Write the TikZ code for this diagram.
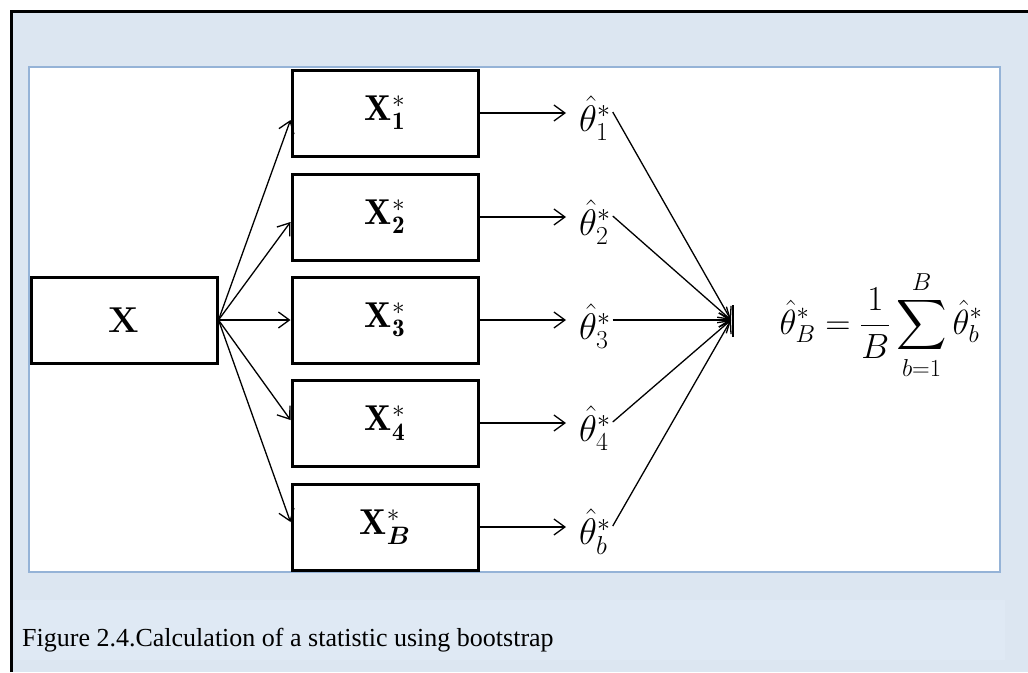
\RequirePackage{fix-cm}
\documentclass[tikz,border=0pt]{standalone}
\usepackage{amsmath,bm}
\DeclareFontShape{OMX}{cmex}{m}{n}{<-7.5> cmex7 <7.5-8.5> cmex8 <8.5-9.5> cmex9 <9.5-> cmex10}{}
\usepackage{fontspec}
\usetikzlibrary{arrows.meta,calc}
\newfontfamily\capfont{Liberation Serif}
\definecolor{bgblue}{RGB}{220,230,241}
\definecolor{panelline}{RGB}{149,179,215}
\definecolor{capbox}{RGB}{223,233,244}
\begin{document}
\begin{tikzpicture}[x=1pt,y=-1pt,
  sbox/.style={draw=black,line width=3pt,minimum width=186pt,minimum height=86pt,inner sep=0pt},
  arr/.style={line width=1.3pt,-{Straight Barb[length=11pt,width=16pt,line width=1.3pt]}},
  conv/.style={line width=1.3pt,-{Straight Barb[length=11pt,width=14pt,line width=1.3pt]}},
  thlabel/.style={anchor=west,inner xsep=13pt,inner ysep=2pt,font=\fontsize{37}{37}\selectfont},
  boxlabel/.style={font=\fontsize{36}{36}\selectfont}]
\useasboundingbox (0,0) rectangle (1028,672);
\fill[white] (0,0) rectangle (1028,672);
\fill[bgblue] (11.5,11.5) rectangle (1028,672);
\fill[capbox] (15,600) rectangle (1005,660);
\draw[line width=3pt] (11.5,672) -- (11.5,11.5) -- (1028,11.5);
\draw[panelline,fill=white,line width=2.5pt] (29,67) rectangle (1000,572);
% main box
\node[sbox] (x) at (124,320) {\fontsize{36}{36}\selectfont\bfseries X};
% sample boxes
\node[sbox,boxlabel] (b1) at (385,113) {$\mathbf{X}^{*}_{\mathbf{1}}$};
\node[sbox,boxlabel] (b2) at (385,217) {$\mathbf{X}^{*}_{\mathbf{2}}$};
\node[sbox,boxlabel] (b3) at (385,320) {$\mathbf{X}^{*}_{\mathbf{3}}$};
\node[sbox,boxlabel] (b4) at (385,423) {$\mathbf{X}^{*}_{\mathbf{4}}$};
\node[sbox,boxlabel] (b5) at (385,527) {$\mathbf{X}^{*}_{\bm{B}}$};
% arrows from X
\draw[arr] (x.east) -- ($(b1.west)+(0,7)$);
\draw[arr] (x.east) -- ($(b2.west)+(0,5)$);
\draw[arr] (x.east) -- (b3.west);
\draw[arr] (x.east) -- ($(b4.west)+(0,-3)$);
\draw[arr] (x.east) -- ($(b5.west)+(0,-5)$);
% theta labels
\node[thlabel] (t1) at (566,118) {$\hat{\theta}_1^*$};
\node[thlabel] (t2) at (566,222) {$\hat{\theta}_2^*$};
\node[thlabel] (t3) at (566,326) {$\hat{\theta}_3^*$};
\node[thlabel] (t4) at (566,428) {$\hat{\theta}_4^*$};
\node[thlabel] (t5) at (566,532) {$\hat{\theta}_b^*$};
\foreach \i in {1,...,5}{
  \draw[arr] (b\i.east) -- (b\i.east -| t\i.west);
}
% convergence
\coordinate (c) at (731,320);
\draw[line width=2pt] ($(c)+(2,-15)$) -- ($(c)+(2,17)$);
\foreach \i in {1,...,5}{
  \coordinate (s\i) at ($(t\i.east)+(-11,-6)$);
  \draw[conv] (s\i) -- (c);
}
% formula
\node (f) at (881,325) {\fontsize{35}{40}\selectfont$\displaystyle \hat{\theta}_B^{*} = \frac{1}{B}\sum_{b=1}^{B}\hat{\theta}_b^{*}$};
% caption
\node[anchor=base west,inner sep=0pt] (cap) at (22,646) {\capfont\fontsize{26}{26}\selectfont Figure 2.4.Calculation of a statistic using bootstrap};
\end{tikzpicture}
\end{document}
